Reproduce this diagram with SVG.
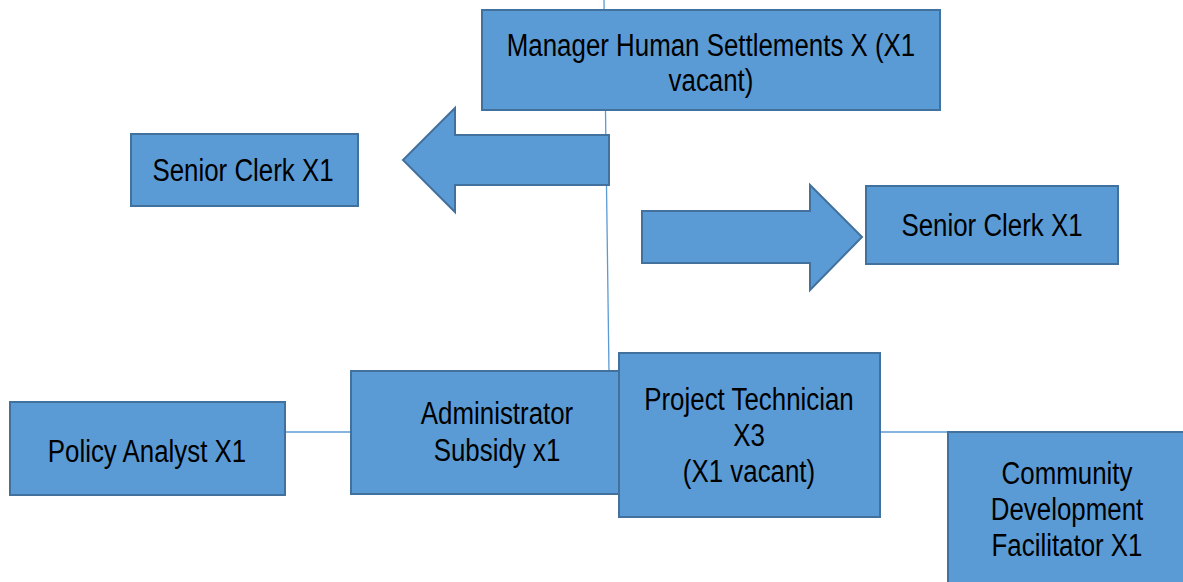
<svg xmlns="http://www.w3.org/2000/svg" width="1183" height="582" viewBox="0 0 1183 582">
<style>
.box{fill:#5B9BD5;stroke:#41719C;stroke-width:2}
.conn{stroke:#5B9BD5;stroke-width:1.3;fill:none}
text{font-family:"Liberation Sans Narrow","Arial Narrow","Liberation Sans",sans-serif;font-size:31px;fill:#000;text-anchor:middle}
</style>
<rect width="1183" height="582" fill="#fff"/>
<g id="connectors">
<line class="conn" x1="604" y1="0" x2="609" y2="372"/>
<line class="conn" x1="285" y1="432" x2="351" y2="432"/>
<line class="conn" x1="880" y1="432" x2="948" y2="432"/>
</g>
<g id="manager">
<rect class="box" x="482" y="10" width="458" height="100"/>
<text transform="translate(711 56) scale(0.835 1)">Manager Human Settlements X (X1</text>
<text transform="translate(711 91) scale(0.835 1)">vacant)</text>
</g>
<g id="arrow-left">
<polygon class="box" points="609,135 455,135 455,108 403,160 455,212 455,185 609,185"/>
</g>
<g id="senior-clerk-left">
<rect class="box" x="131" y="134" width="227" height="72"/>
<text transform="translate(243 181) scale(0.835 1)">Senior Clerk X1</text>
</g>
<g id="arrow-right">
<polygon class="box" points="642,211 810,211 810,185 862,237 810,290 810,263 642,263"/>
</g>
<g id="senior-clerk-right">
<rect class="box" x="866" y="186" width="252" height="78"/>
<text transform="translate(992 236) scale(0.835 1)">Senior Clerk X1</text>
</g>
<g id="policy-analyst">
<rect class="box" x="10" y="402" width="275" height="93"/>
<text transform="translate(147 462) scale(0.835 1)">Policy Analyst X1</text>
</g>
<g id="administrator-subsidy">
<rect class="box" x="351" y="371" width="270" height="123"/>
<text transform="translate(497 424) scale(0.835 1)">Administrator</text>
<text transform="translate(497 461) scale(0.835 1)">Subsidy x1</text>
</g>
<g id="project-technician">
<rect class="box" x="619" y="353" width="261" height="164"/>
<text transform="translate(749 410) scale(0.835 1)">Project Technician</text>
<text transform="translate(749 446) scale(0.835 1)">X3</text>
<text transform="translate(749 482) scale(0.835 1)">(X1 vacant)</text>
</g>
<g id="community-development">
<rect class="box" x="948" y="432" width="245" height="160"/>
<text transform="translate(1067 484) scale(0.835 1)">Community</text>
<text transform="translate(1067 520) scale(0.835 1)">Development</text>
<text transform="translate(1067 556) scale(0.835 1)">Facilitator X1</text>
</g>
</svg>
